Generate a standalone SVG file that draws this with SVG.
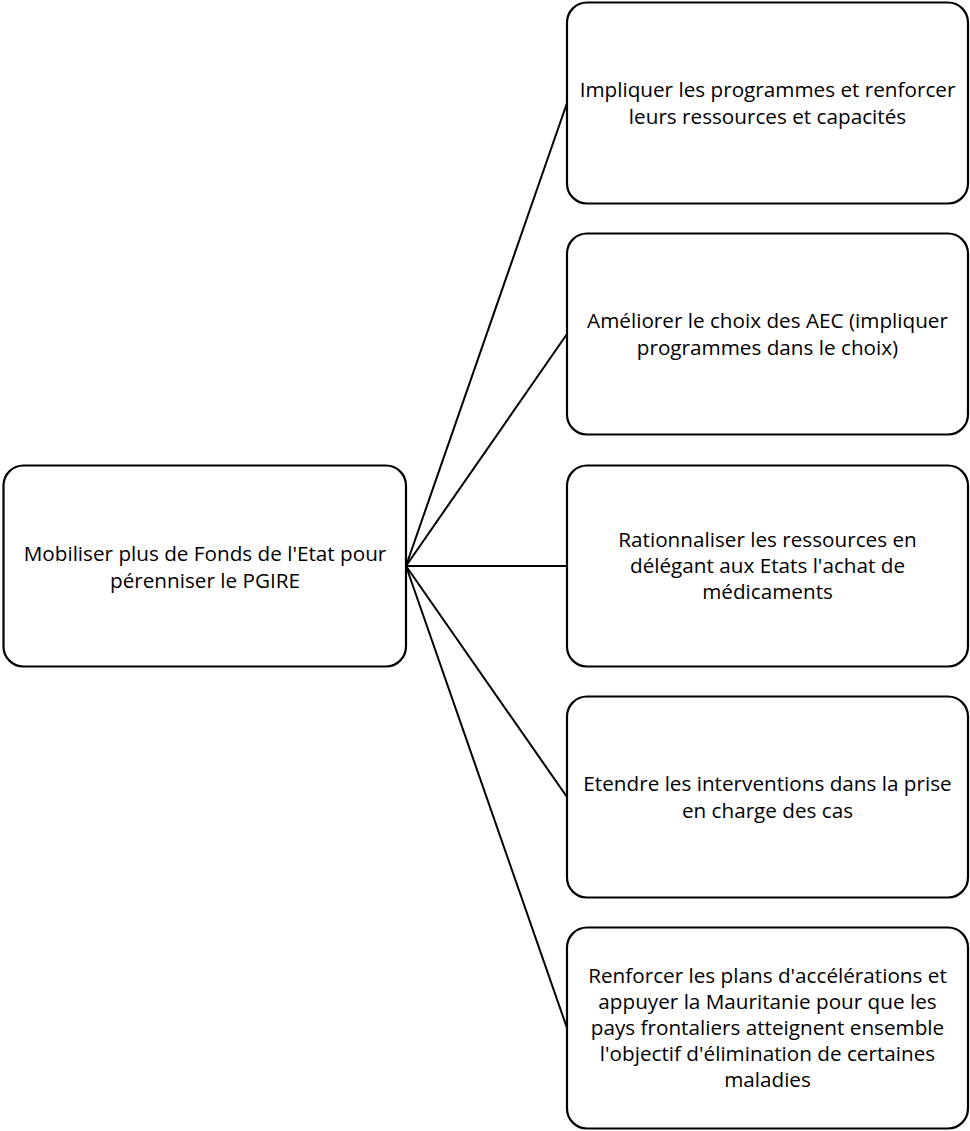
<svg xmlns="http://www.w3.org/2000/svg" width="970" height="1131" viewBox="0 0 970 1131">
<style>
.box{fill:#fff;stroke:#000;stroke-width:2.2}
.t{font-family:"Open Sans","Liberation Sans",sans-serif;font-size:20.7px;fill:#000;text-anchor:middle}
.c{stroke:#000;stroke-width:2;fill:none}
</style>
<rect width="970" height="1131" fill="#fff"/>
<g id="connectors">
<line class="c" x1="406" y1="566" x2="567" y2="103"/>
<line class="c" x1="406" y1="566" x2="567" y2="334"/>
<line class="c" x1="406" y1="566" x2="567" y2="566"/>
<line class="c" x1="406" y1="566" x2="567" y2="797"/>
<line class="c" x1="406" y1="566" x2="567" y2="1028"/>
</g>
<g id="root">
<rect class="box" x="3.5" y="465.5" width="402.5" height="201" rx="20"/>
<text class="t" x="205" y="561">Mobiliser plus de Fonds de l'Etat pour</text>
<text class="t" x="205" y="588">pérenniser le PGIRE</text>
</g>
<g id="n1">
<rect class="box" x="567" y="2.5" width="401" height="201" rx="20"/>
<text class="t" x="767.5" y="97">Impliquer les programmes et renforcer</text>
<text class="t" x="767.5" y="124">leurs ressources et capacités</text>
</g>
<g id="n2">
<rect class="box" x="567" y="233.5" width="401" height="201" rx="20"/>
<text class="t" x="767.5" y="328">Améliorer le choix des AEC (impliquer</text>
<text class="t" x="767.5" y="355">programmes dans le choix)</text>
</g>
<g id="n3">
<rect class="box" x="567" y="465.5" width="401" height="201" rx="20"/>
<text class="t" x="767.5" y="547">Rationnaliser les ressources en</text>
<text class="t" x="767.5" y="573">délégant aux Etats l'achat de</text>
<text class="t" x="767.5" y="599">médicaments</text>
</g>
<g id="n4">
<rect class="box" x="567" y="696.5" width="401" height="201" rx="20"/>
<text class="t" x="767.5" y="791">Etendre les interventions dans la prise</text>
<text class="t" x="767.5" y="818">en charge des cas</text>
</g>
<g id="n5">
<rect class="box" x="567" y="927.5" width="401" height="201" rx="20"/>
<text class="t" x="767.5" y="983">Renforcer les plans d'accélérations et</text>
<text class="t" x="767.5" y="1009">appuyer la Mauritanie pour que les</text>
<text class="t" x="767.5" y="1035">pays frontaliers atteignent ensemble</text>
<text class="t" x="767.5" y="1061">l'objectif d'élimination de certaines</text>
<text class="t" x="767.5" y="1087">maladies</text>
</g>
</svg>
